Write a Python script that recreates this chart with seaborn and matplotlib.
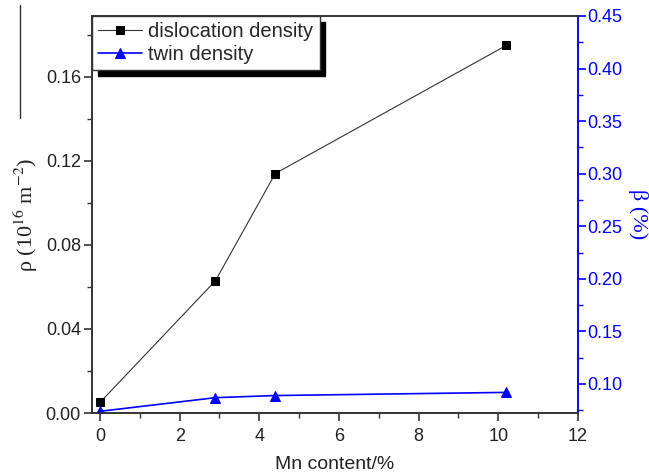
import matplotlib
matplotlib.use("Agg")
import matplotlib.pyplot as plt
import seaborn as sns
from matplotlib.lines import Line2D
from matplotlib.ticker import MultipleLocator

mn_content = [0.0, 2.9, 4.4, 10.2]
dislocation_density = [0.005, 0.063, 0.114, 0.175]
twin_density = [0.074, 0.087, 0.089, 0.092]

left_ticks = [0.00, 0.04, 0.08, 0.12, 0.16]
right_ticks = [0.10, 0.15, 0.20, 0.25, 0.30, 0.35, 0.40, 0.45]
x_ticks = [0, 2, 4, 6, 8, 10, 12]

sns.set_style("ticks")
plt.rcParams["font.family"] = ["Liberation Sans", "DejaVu Sans"]
plt.rcParams["mathtext.fontset"] = "stix"

fig = plt.figure(figsize=(6.49, 4.74), dpi=100)
ax = fig.add_axes([92/649, 61/474, (578-92)/649, (413-16)/474])
ax2 = ax.twinx()

blue = "#0000ff"

sns.lineplot(x=mn_content, y=dislocation_density, ax=ax, color="#333333", lw=0.8,
             marker="s", markersize=5.5, markerfacecolor="black", markeredgecolor="black",
             label="dislocation density", legend=False)
sns.lineplot(x=mn_content, y=twin_density, ax=ax2, color=blue, lw=1.2,
             marker="^", markersize=7.5, markerfacecolor=blue, markeredgecolor=blue,
             label="twin density", legend=False)

ax.set_xlim(-0.2, 12)
ax.set_ylim(0, 0.189)
ax2.set_ylim(0.0724, 0.45)

ax.set_xticks(x_ticks)
ax.set_xticklabels([str(t) for t in x_ticks])
ax.xaxis.set_minor_locator(MultipleLocator(1))
ax.set_yticks(left_ticks)
ax.set_yticklabels([f"{t:.2f}" for t in left_ticks])
ax.yaxis.set_minor_locator(MultipleLocator(0.02))
ax2.set_yticks(right_ticks)
ax2.set_yticklabels([f"{t:.2f}" for t in right_ticks])
ax2.yaxis.set_minor_locator(MultipleLocator(0.025))

for a in (ax, ax2):
    for s in a.spines.values():
        s.set_visible(True)
        s.set_linewidth(1.2)
        s.set_color("#333333")
ax2.spines["right"].set_color(blue)

ax.tick_params(axis="both", which="major", direction="out", length=6, width=1.2,
               labelsize=13, colors="#333333", labelcolor="#222222", pad=2)
ax.tick_params(axis="x", which="major", pad=5)
ax.tick_params(axis="both", which="minor", direction="out", length=3.5, width=1.0,
               colors="#333333")
ax.tick_params(axis="x", top=False)
ax2.tick_params(axis="y", which="major", direction="out", length=6, width=1.2,
                labelsize=13, colors=blue, labelcolor=blue, pad=1)
ax2.tick_params(axis="y", which="minor", direction="out", length=3.5, width=1.0,
                colors=blue)

ax.set_xlabel("Mn content/%", fontsize=14, color="#222222", labelpad=8)
ax.set_ylabel(r"ρ (10$^{16}$ m$^{-2}$)", fontsize=16, family="Liberation Serif",
              color="#222222", labelpad=4)
ax2.set_ylabel("β (%)", fontsize=16, family="Liberation Serif", color=blue,
               rotation=270, labelpad=18)

h1, l1 = ax.get_legend_handles_labels()
h2, l2 = ax2.get_legend_handles_labels()
leg = ax2.legend(h1 + h2, l1 + l2, loc="upper left", bbox_to_anchor=(0, 1),
                 borderaxespad=0, fontsize=14.5, frameon=True, fancybox=False,
                 shadow={"color": "black", "alpha": 1, "ox": 4, "oy": -4},
                 handlelength=2.2, handletextpad=0.3, borderpad=0.3,
                 labelspacing=0.2, edgecolor="#333333")
leg.get_frame().set_linewidth(1.0)
leg.get_frame().set_alpha(1)

fig.add_artist(Line2D([20/649, 20/649], [1 - 5/474, 1 - 118/474],
                      transform=fig.transFigure, color="#333333", lw=1))

fig.savefig("out.png", dpi=100)
